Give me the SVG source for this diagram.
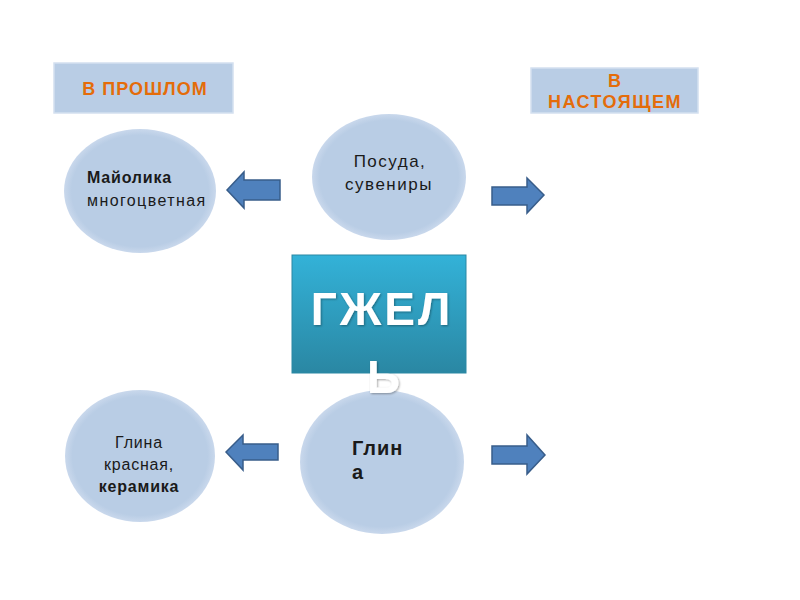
<svg xmlns="http://www.w3.org/2000/svg" width="800" height="600" viewBox="0 0 800 600">
<defs>
<linearGradient id="teal" x1="0" y1="0" x2="0" y2="1">
<stop offset="0" stop-color="#33b2d8"/>
<stop offset="1" stop-color="#2a87a3"/>
</linearGradient>
<radialGradient id="ell" cx="0.5" cy="0.5" r="0.5">
<stop offset="0.9" stop-color="#b9cde5"/>
<stop offset="1" stop-color="#c9d8ec"/>
</radialGradient>
<filter id="sh" x="-20%" y="-20%" width="140%" height="140%">
<feDropShadow dx="1" dy="1" stdDeviation="1.2" flood-color="#000000" flood-opacity="0.35"/>
</filter>
</defs>
<style>
.lbl{fill:#b9cde5;stroke:#d4e0ef;stroke-width:1.5}
.lt{font-family:"Liberation Sans",Arial,sans-serif;font-weight:bold;font-size:18px;fill:#e46c0a;text-anchor:middle;letter-spacing:1px}
.el{fill:url(#ell)}
.t{font-family:"Liberation Sans",Arial,sans-serif;font-size:16px;fill:#1a1a1a;letter-spacing:0.8px}
.b{font-weight:bold}
.arr{fill:#4f81bd;stroke:#385d8a;stroke-width:1.5}
.big{font-family:"Liberation Sans",Arial,sans-serif;font-weight:bold;font-size:46px;fill:#ffffff;letter-spacing:3px;filter:url(#sh)}
</style>
<rect width="800" height="600" fill="#ffffff"/>
<g id="past">
<rect class="lbl" x="54" y="63" width="179" height="50"/>
<text class="lt" x="145" y="95">В ПРОШЛОМ</text>
</g>
<g id="present">
<rect class="lbl" x="531" y="68" width="167" height="45"/>
<text class="lt" x="615" y="87">В</text>
<text class="lt" x="615" y="108" style="letter-spacing:1.5px">НАСТОЯЩЕМ</text>
</g>
<g id="maiolika">
<ellipse class="el" cx="140" cy="191" rx="76" ry="62"/>
<text class="t b" x="87" y="183">Майолика</text>
<text class="t" x="87" y="206" style="letter-spacing:1.4px">многоцветная</text>
</g>
<g id="posuda">
<ellipse class="el" cx="389" cy="177" rx="77" ry="63"/>
<text class="t" x="390" y="167" text-anchor="middle" style="font-size:17px;letter-spacing:1.5px">Посуда,</text>
<text class="t" x="389" y="190" text-anchor="middle" style="font-size:17px;letter-spacing:1.5px">сувениры</text>
</g>
<g id="glina-red">
<ellipse class="el" cx="140" cy="456" rx="75" ry="66"/>
<text class="t" x="139" y="448" text-anchor="middle">Глина</text>
<text class="t" x="139" y="470" text-anchor="middle">красная,</text>
<text class="t b" x="139" y="492" text-anchor="middle">керамика</text>
</g>
<g id="glina">
<ellipse class="el" cx="382" cy="462" rx="82" ry="72"/>
<text class="t b" x="352" y="455" style="font-size:20px;letter-spacing:1px">Глин</text>
<text class="t b" x="352" y="479" style="font-size:20px">а</text>
</g>
<g id="gzhel">
<rect x="292" y="255" width="174" height="118" fill="url(#teal)" stroke="#2a88a4" stroke-width="1"/>
<text class="big" x="382" y="325" text-anchor="middle">ГЖЕЛ</text>
<text class="big" x="385" y="393" text-anchor="middle">Ь</text>
</g>
<g id="connectors">
<polygon class="arr" points="227,190 244,172 244,180 280,180 280,200 244,200 244,208"/>
<polygon class="arr" points="492,187 527,187 527,178 544,195 527,213 527,205 492,205"/>
<polygon class="arr" points="226,452 243,435 243,444 278,444 278,460 243,460 243,470"/>
<polygon class="arr" points="492,446 527,446 527,435 545,455 527,474 527,464 492,464"/>
</g>
</svg>
